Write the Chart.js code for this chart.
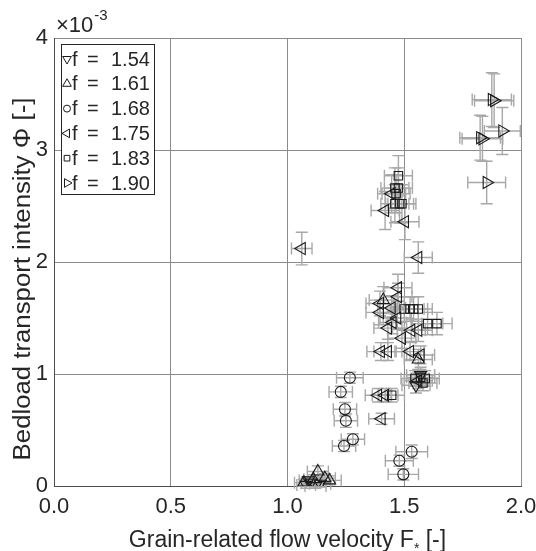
<!DOCTYPE html>
<html>
<head>
<meta charset="utf-8">
<script src="https://cdn.jsdelivr.net/npm/chart.js@4.4.1/dist/chart.umd.min.js"></script>
<style>
    html, body { margin: 0; padding: 0; background: #fff; }
</style>
</head>
<body>
<canvas id="chart" width="536" height="551"></canvas>
<script>
// each point: [F*, Phi (x1e-3), error in F*, error in Phi]
const F154 = [
    [1.08, 0.01, 0.040, 0.03], [1.10, 0.03, 0.040, 0.03], [1.12, 0.00, 0.045, 0.02],
    [1.09, 0.05, 0.040, 0.03], [1.14, 0.02, 0.045, 0.03],
    [1.55, 0.90, 0.060, 0.07], [1.57, 0.99, 0.060, 0.07],
];
const F161 = [
    [1.13, 0.13, 0.045, 0.05], [1.11, 0.06, 0.040, 0.04], [1.16, 0.07, 0.045, 0.04],
    [1.18, 0.05, 0.050, 0.04], [1.07, 0.03, 0.040, 0.03],
    [1.56, 1.13, 0.060, 0.09], [1.41, 1.66, 0.060, 0.12],
];
const F168 = [
    [1.267, 0.967, 0.057, 0.05], [1.228, 0.840, 0.050, 0.05], [1.246, 0.685, 0.050, 0.06],
    [1.250, 0.583, 0.050, 0.06], [1.280, 0.417, 0.050, 0.05], [1.242, 0.357, 0.050, 0.05],
    [1.532, 0.306, 0.068, 0.06], [1.479, 0.226, 0.060, 0.05], [1.496, 0.104, 0.065, 0.05],
];
const F175 = [
    [1.061, 2.12, 0.044, 0.146], [1.560, 2.04, 0.060, 0.14], [1.503, 2.36, 0.060, 0.16],
    [1.418, 2.46, 0.060, 0.17], [1.446, 2.61, 0.060, 0.17], [1.473, 1.77, 0.060, 0.12],
    [1.473, 1.69, 0.060, 0.12], [1.396, 1.63, 0.060, 0.11], [1.396, 1.55, 0.060, 0.11],
    [1.446, 1.59, 0.060, 0.11], [1.530, 1.39, 0.060, 0.10], [1.560, 1.39, 0.060, 0.10],
    [1.490, 1.32, 0.060, 0.09], [1.430, 1.41, 0.060, 0.10], [1.400, 1.20, 0.060, 0.08],
    [1.430, 1.20, 0.060, 0.08], [1.525, 1.20, 0.060, 0.08], [1.570, 1.17, 0.060, 0.08],
    [1.388, 0.81, 0.055, 0.06], [1.418, 0.81, 0.055, 0.06], [1.403, 0.60, 0.055, 0.05],
    [1.560, 0.94, 0.060, 0.07], [1.450, 1.46, 0.060, 0.10], [1.470, 1.50, 0.060, 0.10],
];
const F183 = [
    [1.475, 2.77, 0.060, 0.18], [1.460, 2.66, 0.060, 0.18], [1.475, 2.66, 0.060, 0.18],
    [1.465, 2.61, 0.060, 0.17], [1.460, 2.52, 0.060, 0.17], [1.480, 2.52, 0.060, 0.17],
    [1.490, 2.52, 0.060, 0.17], [1.525, 1.58, 0.060, 0.11], [1.560, 1.58, 0.060, 0.11],
    [1.540, 1.58, 0.060, 0.11], [1.500, 1.58, 0.060, 0.11], [1.600, 1.45, 0.065, 0.10],
    [1.640, 1.45, 0.065, 0.10], [1.446, 0.81, 0.055, 0.06], [1.546, 0.96, 0.060, 0.07],
    [1.570, 0.97, 0.060, 0.07], [1.590, 0.96, 0.060, 0.07], [1.580, 0.92, 0.060, 0.07],
];
const F190 = [
    [1.875, 3.45, 0.084, 0.24], [1.885, 3.44, 0.084, 0.24], [1.920, 3.17, 0.077, 0.21],
    [1.825, 3.11, 0.087, 0.20], [1.835, 3.10, 0.087, 0.20], [1.853, 2.71, 0.081, 0.19],
];

const SERIES_LABELS = ["1.54", "1.61", "1.68", "1.75", "1.83", "1.90"];
const X_TICKS = [0, 0.5, 1, 1.5, 2];
const Y_TICKS = [0, 1, 2, 3, 4];

const FONT = "'Liberation Sans', Arial, Helvetica, sans-serif";
const TEXT = "#262626";
const MARKER = "#1a1a1a";
const ERRBAR = "#a8a8a8";

// marker style per series: shape, rotation, radius
const MARKERS = [
    { style: "triangle", rot: 180, r: 7 },
    { style: "triangle", rot: 0, r: 7 },
    { style: "circle", rot: 0, r: 5.5 },
    { style: "triangle", rot: 270, r: 7 },
    { style: "rect", rot: 0, r: 6 },
    { style: "triangle", rot: 90, r: 7 },
];

const allSeries = [F154, F161, F168, F175, F183, F190];

const datasets = allSeries.map((s, i) => ({
    label: "f = " + SERIES_LABELS[i],
    data: s.map((p) => ({ x: p[0], y: p[1], ex: p[2], ey: p[3] })),
    pointStyle: MARKERS[i].style,
    rotation: MARKERS[i].rot,
    pointRadius: MARKERS[i].r,
    pointBorderWidth: 1.1,
    pointBorderColor: MARKER,
    pointBackgroundColor: "rgba(0,0,0,0)",
    showLine: false,
}));

const errorBars = {
    id: "errorBars",
    beforeDatasetsDraw(chart) {
        const { ctx, scales: { x, y } } = chart;
        const cap = 6;
        ctx.save();
        ctx.strokeStyle = ERRBAR;
        ctx.lineWidth = 1.4;
        chart.data.datasets.forEach((ds) => {
            ds.data.forEach((p) => {
                const px = x.getPixelForValue(p.x);
                const py = y.getPixelForValue(p.y);
                const x0 = x.getPixelForValue(p.x - p.ex);
                const x1 = x.getPixelForValue(p.x + p.ex);
                const y0 = y.getPixelForValue(p.y - p.ey);
                const y1 = y.getPixelForValue(p.y + p.ey);
                ctx.beginPath();
                ctx.moveTo(x0, py); ctx.lineTo(x1, py);
                ctx.moveTo(x0, py - cap); ctx.lineTo(x0, py + cap);
                ctx.moveTo(x1, py - cap); ctx.lineTo(x1, py + cap);
                ctx.moveTo(px, y0); ctx.lineTo(px, y1);
                ctx.moveTo(px - cap, y0); ctx.lineTo(px + cap, y0);
                ctx.moveTo(px - cap, y1); ctx.lineTo(px + cap, y1);
                ctx.stroke();
            });
        });
        ctx.restore();
    },
};

const decorations = {
    id: "decorations",
    afterDraw(chart) {
        const { ctx, chartArea: a } = chart;
        ctx.save();
        ctx.fillStyle = TEXT;

        // exponent above the y axis
        ctx.textBaseline = "alphabetic";
        ctx.textAlign = "left";
        ctx.font = `22px ${FONT}`;
        ctx.fillText("\u00d710", a.left + 2, 32);
        const w = ctx.measureText("\u00d710").width;
        ctx.font = `15px ${FONT}`;
        ctx.fillText("-3", a.left + 3 + w, 20);

        // x axis title with subscript
        const xa = "Grain-related flow velocity F";
        const xb = " [-]";
        ctx.font = `23px ${FONT}`;
        const wa = ctx.measureText(xa).width;
        const wb = ctx.measureText(xb).width;
        ctx.font = `14px ${FONT}`;
        const ws = ctx.measureText("*").width;
        const tx = (a.left + a.right) / 2 - (wa + ws + wb) / 2;
        ctx.font = `23px ${FONT}`;
        ctx.fillText(xa, tx, 547);
        ctx.font = `14px ${FONT}`;
        ctx.fillText("*", tx + wa, 553);
        ctx.font = `23px ${FONT}`;
        ctx.fillText(xb, tx + wa + ws, 547);

        // y axis title, a little wider along its run
        ctx.save();
        ctx.translate(30, 279);
        ctx.rotate(-Math.PI / 2);
        ctx.scale(1.12, 1);
        ctx.textAlign = "center";
        ctx.textBaseline = "alphabetic";
        ctx.font = `23px ${FONT}`;
        ctx.fillText("Bedload transport intensity \u03a6 [-]", 0, 0);
        ctx.restore();

        // legend box inside the axes
        const bx = a.left + 7, by = a.top + 6, bw = 93, bh = 150;
        ctx.fillStyle = "#fff";
        ctx.fillRect(bx, by, bw, bh);
        ctx.strokeStyle = "#262626";
        ctx.lineWidth = 1;
        ctx.strokeRect(bx + 0.5, by + 0.5, bw, bh);
        ctx.font = `20px ${FONT}`;
        ctx.textAlign = "left";
        ctx.textBaseline = "middle";
        SERIES_LABELS.forEach((lab, i) => {
            const cy = by + 15 + i * 24.8;
            const m = MARKERS[i];
            ctx.strokeStyle = MARKER;
            ctx.fillStyle = "rgba(0,0,0,0)";
            ctx.lineWidth = 1;
            Chart.helpers.drawPoint(ctx, {
                pointStyle: m.style,
                rotation: m.rot,
                radius: m.style === "circle" ? 3.5 : (m.style === "rect" ? 4 : 5),
                borderWidth: 1,
            }, bx + 6, cy);
            ctx.fillStyle = TEXT;
            ctx.fillText("f", bx + 11, cy + 1);
            ctx.fillText("=", bx + 26, cy + 1);
            ctx.fillText(lab, bx + 50, cy + 1);
        });
        ctx.restore();
    },
};

const ctx = document.getElementById("chart").getContext("2d");

new Chart(ctx, {
    type: "scatter",
    data: { datasets },
    options: {
        responsive: false,
        animation: false,
        devicePixelRatio: 1,
        layout: { padding: { left: 0, right: 15, top: 38, bottom: 0 } },
        plugins: {
            legend: { display: false },
            tooltip: { enabled: false },
        },
        scales: {
            x: {
                type: "linear",
                min: 0,
                max: 2,
                afterBuildTicks: (s) => { s.ticks = X_TICKS.map((v) => ({ value: v })); },
                afterFit: (s) => { s.height = 65; s.paddingRight = 0; s.paddingLeft = 0; },
                ticks: {
                    color: TEXT,
                    font: { family: FONT, size: 22 },
                    padding: 8,
                    maxRotation: 0,
                    callback: (v) => Number(v).toFixed(1),
                },
                grid: { color: "#8c8c8c", lineWidth: 1, drawTicks: false },
                border: { color: "#4d4d4d", width: 1 },
            },
            y: {
                type: "linear",
                min: 0,
                max: 4,
                afterBuildTicks: (s) => { s.ticks = Y_TICKS.map((v) => ({ value: v })); },
                afterFit: (s) => { s.width = 54; },
                ticks: {
                    color: TEXT,
                    font: { family: FONT, size: 22 },
                    padding: 6,
                    callback: (v) => String(v),
                },
                grid: { color: "#8c8c8c", lineWidth: 1, drawTicks: false },
                border: { color: "#4d4d4d", width: 1 },
            },
        },
    },
    plugins: [errorBars, decorations],
});
</script>
</body>
</html>
